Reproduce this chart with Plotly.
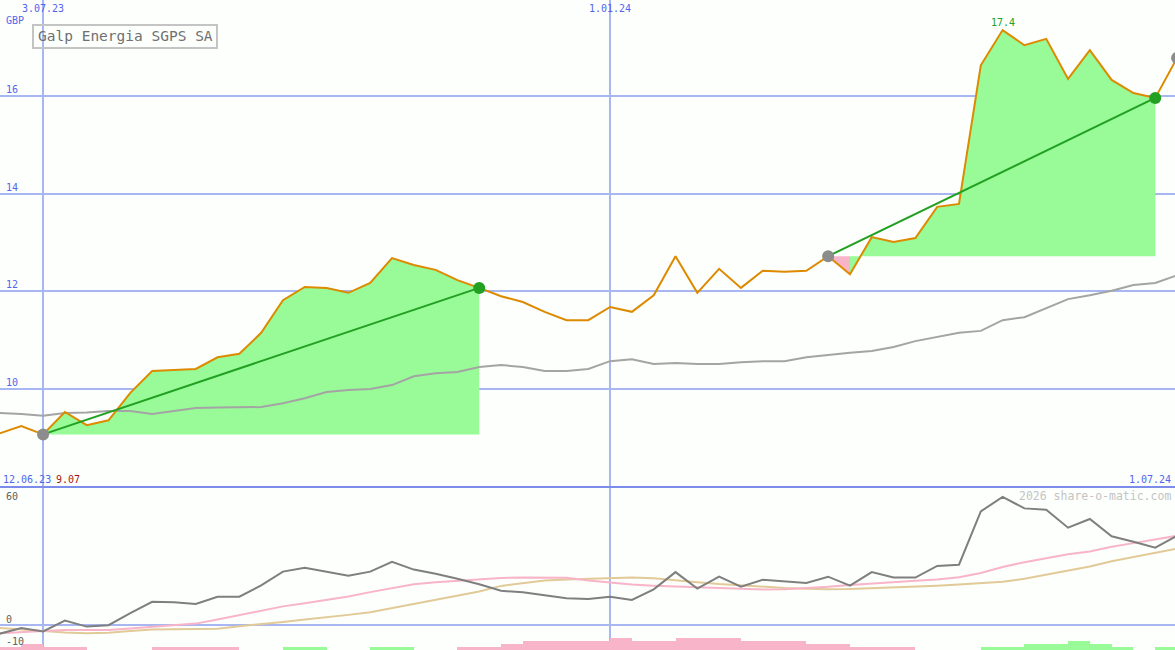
import pandas as pd
import plotly.graph_objects as go

W, H = 1175, 650

# ---------------- data ----------------
dates = pd.date_range("2023-06-19", periods=55, freq="7D")

price = [9.09, 9.24, 9.07, 9.53, 9.26, 9.36, 9.92, 10.37, 10.39, 10.41,
         10.65, 10.72, 11.15, 11.82, 12.09, 12.07, 11.97, 12.17, 12.68, 12.54,
         12.44, 12.23, 12.07, 11.90, 11.78, 11.58, 11.41, 11.41, 11.68, 11.58,
         11.92, 12.72, 11.97, 12.46, 12.07, 12.42, 12.40, 12.42, 12.72, 12.35,
         13.11, 13.01, 13.09, 13.73, 13.79, 16.63, 17.35, 17.04, 17.17, 16.35,
         16.94, 16.33, 16.06, 15.96, 16.78]

avg_line = [9.51, 9.49, 9.45, 9.51, 9.52, 9.55, 9.55, 9.49, 9.55, 9.61,
            9.62, 9.63, 9.63, 9.71, 9.81, 9.94, 9.98, 10.00, 10.08, 10.26,
            10.32, 10.35, 10.45, 10.49, 10.45, 10.37, 10.37, 10.41, 10.57, 10.61,
            10.51, 10.53, 10.51, 10.51, 10.55, 10.57, 10.57, 10.65, 10.70, 10.74,
            10.78, 10.86, 10.98, 11.06, 11.15, 11.19, 11.41, 11.47, 11.66, 11.84,
            11.92, 12.01, 12.13, 12.17, 12.33]

momentum = [-3.8, -1.3, -2.8, 1.9, -0.7, -0.1, 5.2, 10.1, 9.9, 9.1,
            12.3, 12.3, 17.2, 23.2, 24.9, 23.2, 21.4, 23.2, 27.5, 24.1,
            22.3, 20.1, 17.7, 14.9, 14.2, 12.9, 11.6, 11.3, 12.3, 10.9,
            15.5, 23.0, 15.8, 21.0, 16.7, 19.7, 19.0, 18.3, 21.0, 17.1,
            23.0, 20.7, 20.6, 25.7, 26.2, 49.4, 55.7, 50.7, 50.1, 42.3,
            46.1, 38.6, 36.2, 33.6, 38.8]

avg_fast = [-3.6, -3.0, -2.6, -2.2, -2.2, -2.2, -1.5, -0.8, -0.2, 0.6,
            2.4, 4.3, 6.2, 8.1, 9.5, 10.8, 12.4, 14.3, 15.9, 17.7,
            18.6, 19.3, 19.8, 20.4, 20.7, 20.7, 20.5, 19.3, 18.4, 17.6,
            17.1, 16.8, 16.4, 15.9, 15.6, 15.4, 15.5, 15.9, 16.6, 17.4,
            18.1, 18.7, 19.2, 19.8, 20.8, 22.6, 25.2, 27.3, 29.1, 30.8,
            32.0, 34.0, 35.6, 37.2, 38.8]

avg_slow = [-1.3, -2.0, -2.8, -3.3, -3.6, -3.4, -2.6, -2.0, -1.8, -1.7,
            -1.6, -0.5, 0.3, 1.3, 2.4, 3.3, 4.4, 5.5, 7.3, 9.0,
            10.8, 12.6, 14.6, 17.0, 18.3, 19.3, 19.8, 20.0, 20.4, 20.6,
            20.3, 19.6, 18.6, 17.8, 17.2, 16.6, 16.1, 15.8, 15.5, 15.6,
            15.9, 16.3, 16.6, 17.1, 17.6, 18.3, 18.8, 20.1, 21.8, 23.4,
            25.4, 27.7, 29.5, 31.1, 33.2]

# signed bar levels: negative = pink, positive = green
bar_level = [-1, -2, -1, -1, 0, 0, 0, -1, -1, -1,
             -1, 0, 0, 1, 1, 0, 0, 1, 1, 0,
             0, -1, -1, -2, -3, -3, -3, -3, -4, -3,
             -3, -4, -4, -4, -3, -3, -3, -2, -2, -1,
             -1, -1, 0, 0, 0, 1, 1, 2, 2, 3,
             2, 1, 0, 1, 0]

low1_idx, high1_idx = 2, 22
low2_idx, high2_idx = 38, 53
peak_idx = 46
low_label = "9.07"
peak_label = "17.4"
title = "Galp Energia SGPS SA"
y_ticks = [10, 12, 14, 16]
x_ticks = ["2023-07-03", "2024-01-01"]
x_tick_text = ["3.07.23", "1.01.24"]

# ---------------- styles ----------------
ORANGE = "#dd8a00"
GRAY_AVG = "#a4a4a4"
FILL_G = "#98fb98"
FILL_P = "#f8b4c8"
TREND = "#22a022"
DOT_GRAY = "#8c8c8c"
GRID = "#a8b6f2"
BLUE_TXT = "#5464ee"
MOM = "#7f7f7f"
TAN = "#e2ca98"
BG = "#fcfffc"

split = 163 / H  # lower panel height fraction


def px(xp):
    return xp / W


def py(yp):
    return 1 - yp / H


fig = go.Figure()

low_idx_map = {(low1_idx, high1_idx): low1_idx,
               (low2_idx, low2_idx + 1): low2_idx,
               (low2_idx + 1, high2_idx): low2_idx}


def region(i0, i1, color):
    xs = list(dates[i0:i1 + 1])
    base = price[low_idx_map[(i0, i1)]]
    fig.add_trace(go.Scatter(x=xs, y=[base] * len(xs), mode="lines",
                             line=dict(width=0), hoverinfo="skip",
                             showlegend=False, xaxis="x", yaxis="y"))
    fig.add_trace(go.Scatter(x=xs, y=price[i0:i1 + 1], mode="lines",
                             line=dict(width=0), fill="tonexty",
                             fillcolor=color, hoverinfo="skip",
                             showlegend=False, xaxis="x", yaxis="y"))


region(low1_idx, high1_idx, FILL_G)
region(low2_idx, low2_idx + 1, FILL_P)
region(low2_idx + 1, high2_idx, FILL_G)

# moving average line (top)
fig.add_trace(go.Scatter(x=dates, y=avg_line, mode="lines",
                         line=dict(color=GRAY_AVG, width=2),
                         showlegend=False, xaxis="x", yaxis="y"))
# price line
fig.add_trace(go.Scatter(x=dates, y=price, mode="lines",
                         line=dict(color=ORANGE, width=2),
                         showlegend=False, xaxis="x", yaxis="y"))
# trend lines
for a, b in [(low1_idx, high1_idx), (low2_idx, high2_idx)]:
    fig.add_trace(go.Scatter(x=[dates[a], dates[b]], y=[price[a], price[b]],
                             mode="lines", line=dict(color=TREND, width=2),
                             showlegend=False, xaxis="x", yaxis="y"))
# markers
gray_pts = [low1_idx, low2_idx, len(price) - 1]
green_pts = [high1_idx, high2_idx]
fig.add_trace(go.Scatter(x=[dates[i] for i in gray_pts], y=[price[i] for i in gray_pts],
                         mode="markers", marker=dict(color=DOT_GRAY, size=12),
                         showlegend=False, xaxis="x", yaxis="y"))
fig.add_trace(go.Scatter(x=[dates[i] for i in green_pts], y=[price[i] for i in green_pts],
                         mode="markers", marker=dict(color=TREND, size=12),
                         showlegend=False, xaxis="x", yaxis="y"))

# --- lower panel ---
fig.add_trace(go.Bar(x=dates, y=[abs(v) for v in bar_level],
                     marker=dict(color=[FILL_P if v < 0 else FILL_G for v in bar_level],
                                 line=dict(width=0)),
                     width=7 * 24 * 3600 * 1000, offset=0,
                     showlegend=False, xaxis="x2", yaxis="y3"))
fig.add_trace(go.Scatter(x=dates, y=avg_slow, mode="lines",
                         line=dict(color=TAN, width=2),
                         showlegend=False, xaxis="x2", yaxis="y2"))
fig.add_trace(go.Scatter(x=dates, y=avg_fast, mode="lines",
                         line=dict(color=FILL_P, width=2),
                         showlegend=False, xaxis="x2", yaxis="y2"))
fig.add_trace(go.Scatter(x=dates, y=momentum, mode="lines",
                         line=dict(color=MOM, width=2),
                         showlegend=False, xaxis="x2", yaxis="y2"))

x_range = ["2023-06-19 04:00", "2024-06-30 08:00"]
xcommon = dict(range=x_range, showgrid=True, gridcolor=GRID, gridwidth=2,
               tickvals=x_ticks, showticklabels=False, zeroline=False,
               showline=False, ticks="")

fig.update_layout(
    width=W, height=H, autosize=False,
    margin=dict(l=0, r=0, t=0, b=0, pad=0),
    paper_bgcolor=BG, plot_bgcolor=BG,
    showlegend=False, bargap=0,
    xaxis=dict(domain=[0, 1], anchor="y", **xcommon),
    xaxis2=dict(domain=[0, 1], anchor="y2", matches="x", **xcommon),
    yaxis=dict(domain=[split, 1], range=[7.993, 17.966], tickvals=y_ticks,
               showgrid=True, gridcolor=GRID, gridwidth=2,
               showticklabels=False, zeroline=False, ticks=""),
    yaxis2=dict(domain=[0, split], range=[-10.87, 60], tickvals=[0],
                showgrid=True, gridcolor=GRID, gridwidth=2,
                showticklabels=False, zeroline=False, ticks=""),
    yaxis3=dict(domain=[0, split], range=[0, 163 / 3], overlaying="y2",
                visible=False, showgrid=False),
)

# separator between panels
fig.add_shape(type="line", xref="paper", yref="paper", x0=0, x1=1,
              y0=split, y1=split, line=dict(color="#7c8cea", width=2))
# title box
fig.add_shape(type="rect", xref="paper", yref="paper",
              x0=px(33), x1=px(217), y0=py(48), y1=py(25),
              line=dict(color="#c4c4c4", width=2), fillcolor="rgba(0,0,0,0)")

MONO = "DejaVu Sans Mono"
ann = []
ann.append(dict(x=px(125), y=py(36.5), xref="paper", yref="paper", text=title,
                showarrow=False, font=dict(family=MONO, size=14.5, color="#707070"),
                xanchor="center", yanchor="middle"))
ann.append(dict(x=px(4), y=py(20), xref="paper", yref="paper", text="GBP",
                showarrow=False, font=dict(family=MONO, size=10, color=BLUE_TXT),
                xanchor="left", yanchor="middle"))
for d, t in zip(x_ticks, x_tick_text):
    ann.append(dict(x=d, y=py(8), xref="x", yref="paper", text=t, showarrow=False,
                    font=dict(family=MONO, size=10, color=BLUE_TXT),
                    xanchor="center", yanchor="middle"))
for v in y_ticks:
    ann.append(dict(x=px(4), y=v, xref="paper", yref="y", text=str(v),
                    showarrow=False, font=dict(family=MONO, size=10, color=BLUE_TXT),
                    xanchor="left", yanchor="bottom", yshift=-1))
ann.append(dict(x=px(1), y=py(479), xref="paper", yref="paper",
                text="12.06.23", showarrow=False,
                font=dict(family=MONO, size=10, color=BLUE_TXT),
                xanchor="left", yanchor="middle"))
ann.append(dict(x=px(54), y=py(479), xref="paper", yref="paper",
                text=low_label, showarrow=False,
                font=dict(family=MONO, size=10, color="#a01818"),
                xanchor="left", yanchor="middle"))
ann.append(dict(x=px(1173), y=py(479), xref="paper", yref="paper",
                text="1.07.24", showarrow=False,
                font=dict(family=MONO, size=10, color=BLUE_TXT),
                xanchor="right", yanchor="middle"))
ann.append(dict(x=dates[peak_idx], y=py(22), xref="x", yref="paper",
                text=peak_label, showarrow=False,
                font=dict(family=MONO, size=10, color=TREND),
                xanchor="center", yanchor="middle"))
ann.append(dict(x=px(1173), y=py(496), xref="paper", yref="paper",
                text="2026 share-o-matic.com", showarrow=False,
                font=dict(family=MONO, size=11.5, color="#c4c4c4"),
                xanchor="right", yanchor="middle"))
for t, yp in [("60", 496), ("0", 619), ("-10", 641)]:
    ann.append(dict(x=px(4), y=py(yp), xref="paper", yref="paper", text=t,
                    showarrow=False, font=dict(family=MONO, size=10, color="#606060"),
                    xanchor="left", yanchor="middle"))
fig.update_layout(annotations=ann)

fig.write_html("out.html", config={"displayModeBar": False},
               post_script="document.body.style.margin='0';")
